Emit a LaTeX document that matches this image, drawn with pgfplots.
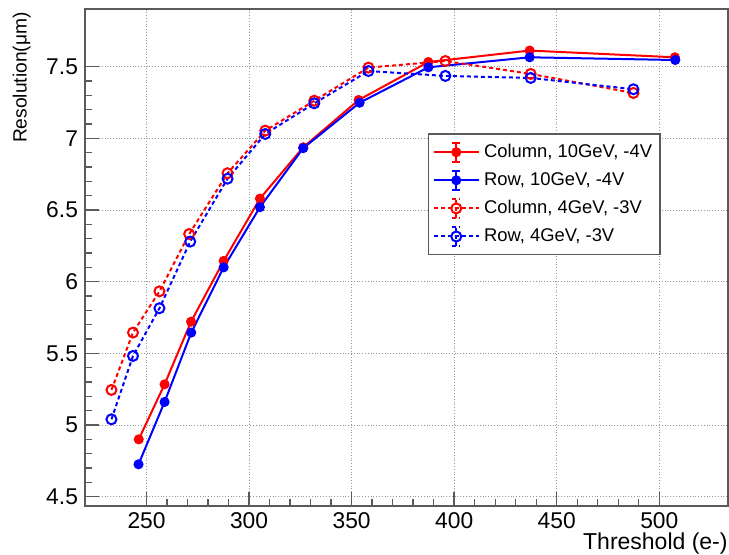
\documentclass[border=0pt]{standalone}
\usepackage{fontspec}
\setmainfont{Liberation Sans}
\usepackage{pgfplots}
\pgfplotsset{compat=1.18}
\definecolor{frame}{RGB}{90,90,90}

\begin{document}
\begin{tikzpicture}
\begin{axis}[
    name=ax,
    scale only axis,
    width=321.5pt, height=248.5pt,
    xmin=220, xmax=533.5,
    ymin=4.435, ymax=7.903,
    xtick={250,300,350,400,450,500},
    ytick={4.5,5,5.5,6,6.5,7,7.5},
    minor x tick num=4, minor y tick num=4,
    tick pos=left, tick align=inside,
    major tick length=7pt, minor tick length=3.5pt,
    grid=major,
    grid style={densely dotted, gray!80, line width=0.5pt},
    axis line style={frame, line width=0.8pt},
    every tick/.style={frame, line width=0.7pt},
    /pgf/number format/assume math mode=true,
    tick label style={font=\fontsize{11.4}{13}\selectfont},
    legend cell align=left,
    legend style={at={(0.533,0.75)}, anchor=north west, draw=frame,
        line width=0.8pt, font=\fontsize{9.2}{11}\selectfont,
        nodes={font=\fontsize{9.2}{11}\selectfont, inner ysep=3pt},
        inner xsep=2pt, inner ysep=2pt, row sep=0pt},
    legend image code/.code={
        \draw[#1] (0.05cm,0cm) -- (0.85cm,0cm);
        \draw[#1] (0.45cm,-0.17cm) -- (0.45cm,0.17cm);
        \draw[#1] (0.38cm,0.17cm) -- (0.52cm,0.17cm);
        \draw[#1] (0.38cm,-0.17cm) -- (0.52cm,-0.17cm);
        \draw[#1] plot coordinates {(0.45cm,0cm)};
    },
]
\addplot[red, line width=1pt, mark=*, mark size=2pt] coordinates {
    (246.2,4.90) (258.8,5.284) (271.7,5.721) (287.6,6.145) (305.3,6.580)
    (326.4,6.938) (353.4,7.268) (387.4,7.533) (436.8,7.613) (507.6,7.566)
};
\addlegendentry{Column, 10GeV, -4V}
\addplot[blue, line width=1pt, mark=*, mark size=2pt] coordinates {
    (246.1,4.726) (258.8,5.161) (271.8,5.645) (287.6,6.10) (305.3,6.52)
    (326.4,6.932) (353.9,7.249) (387.4,7.496) (436.8,7.566) (507.8,7.547)
};
\addlegendentry{Row, 10GeV, -4V}
\addplot[red, line width=1pt, dash pattern=on 2pt off 1.5pt, mark=o, mark size=2.5pt, mark options={solid}] coordinates {
    (232.9,5.245) (243.4,5.645) (256.3,5.933) (270.8,6.333) (289.5,6.757)
    (307.9,7.054) (331.8,7.263) (358.2,7.494) (395.7,7.54) (437.3,7.45) (487.4,7.317)
};
\addlegendentry{Column, 4GeV, -3V}
\addplot[blue, line width=1pt, dash pattern=on 2pt off 1.5pt, mark=o, mark size=2.5pt, mark options={solid}] coordinates {
    (232.9,5.04) (243.4,5.482) (256.3,5.815) (271.3,6.28) (289.5,6.719)
    (307.9,7.031) (331.8,7.245) (358.2,7.47) (395.7,7.436) (437.3,7.422) (487.4,7.343)
};
\addlegendentry{Row, 4GeV, -3V}
\end{axis}
\node[rotate=90, anchor=south east, inner sep=0pt, font=\fontsize{9.6}{11}\selectfont]
    at ([xshift=-27pt, yshift=-1.5pt]ax.north west) {Resolution(μm)};
\node[anchor=north east, inner sep=0pt, font=\fontsize{11.5}{13}\selectfont]
    at ([yshift=-13.3pt]ax.south east) {Threshold (e-)};
\path ([shift={(-42.5pt,-23.5pt)}]ax.south west) rectangle ([shift={(0.5pt,4.5pt)}]ax.north east);
\end{tikzpicture}
\end{document}
